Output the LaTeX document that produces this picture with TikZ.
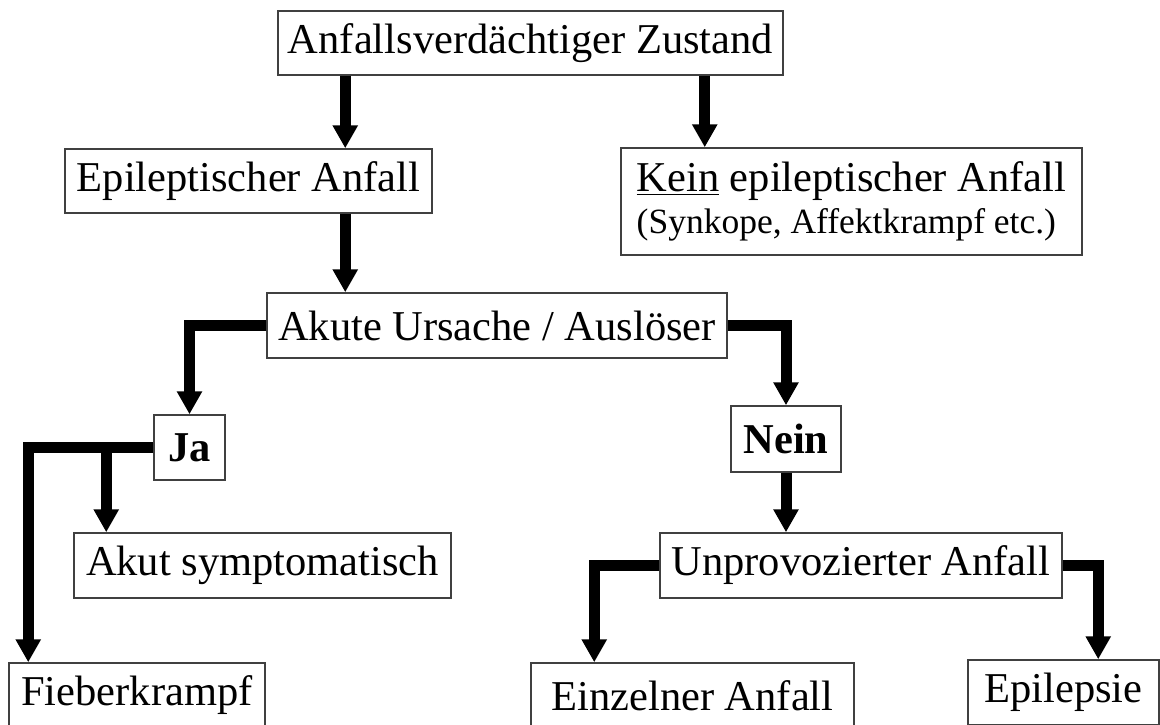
\documentclass[tikz,border=0pt]{standalone}
\usepackage{fontspec}
\setmainfont{Liberation Serif}
\usetikzlibrary{arrows.meta}
\tikzset{
  box/.style={draw=black!75, line width=1.5pt, inner sep=0pt, fill=white,
    font=\fontsize{42.5}{42.5}\selectfont},
  arr/.style={line width=11pt, line join=miter, draw=black,
    -{Triangle[width=24pt,length=23pt]}}
}
\begin{document}
\begin{tikzpicture}[x=1pt,y=-1pt]
\useasboundingbox (0,0) rectangle (1160,724);
\node[box, minimum width=505pt, minimum height=64pt] (top) at (530.5,43) {Anfallsverdächtiger Zustand};
\node[box, minimum width=367pt, minimum height=64pt] (epil) at (248.5,181) {Epileptischer Anfall};
\node[box, minimum width=461pt, minimum height=107pt, align=left] (kein) at (851.5,201.5)
  {\underline{Kein} epileptischer Anfall\\[-1pt]{\fontsize{35.5}{41}\selectfont (Synkope, Affektkrampf etc.)}};
\node[box, minimum width=460pt, minimum height=65pt] (akute) at (497,325.5) {Akute Ursache / Auslöser};
\node[box, minimum width=71pt, minimum height=65pt, font=\fontsize{42.5}{42.5}\selectfont\bfseries] (ja) at (189.5,447.5) {Ja};
\node[box, minimum width=110pt, minimum height=66pt, font=\fontsize{42.5}{42.5}\selectfont\bfseries] (nein) at (786,439) {Nein};
\node[box, minimum width=377pt, minimum height=65pt] (akut) at (262.5,565.5) {Akut symptomatisch};
\node[box, minimum width=402pt, minimum height=65pt] (unprov) at (861,565.5) {Unprovozierter Anfall};
\node[box, minimum width=256pt, minimum height=65pt] (fieber) at (137,695.5) {Fieberkrampf};
\node[box, minimum width=323pt, minimum height=65pt] (einzel) at (692.5,695.5) {Einzelner Anfall};
\node[box, minimum width=191pt, minimum height=65pt] (epi) at (1063.5,692.5) {Epilepsie};

\coordinate (a1) at ([xshift=68pt]top.south west);
\coordinate (a2) at ([xshift=-79pt]top.south east);
\coordinate (j2) at ([xshift=33pt]akut.north west);
\draw[arr] (a1) -- (a1 |- epil.north);
\draw[arr] (a2) -- (a2 |- kein.north);
\draw[arr] (a1 |- epil.south) -- (a1 |- akute.north);
\draw[arr] (akute.west) -| (ja.north);
\draw[arr] (akute.east) -| (nein.north);
\draw[arr] (ja.west) -| ([xshift=20pt]fieber.north west);
\draw[arr] (j2 |- ja.west) -- (j2);
\draw[arr] (nein.south) -- (nein.south |- unprov.north);
\draw[arr] (unprov.west) -| ([xshift=64pt]einzel.north west);
\draw[arr] (unprov.east) -| ([xshift=131pt]epi.north west);
\end{tikzpicture}
\end{document}
